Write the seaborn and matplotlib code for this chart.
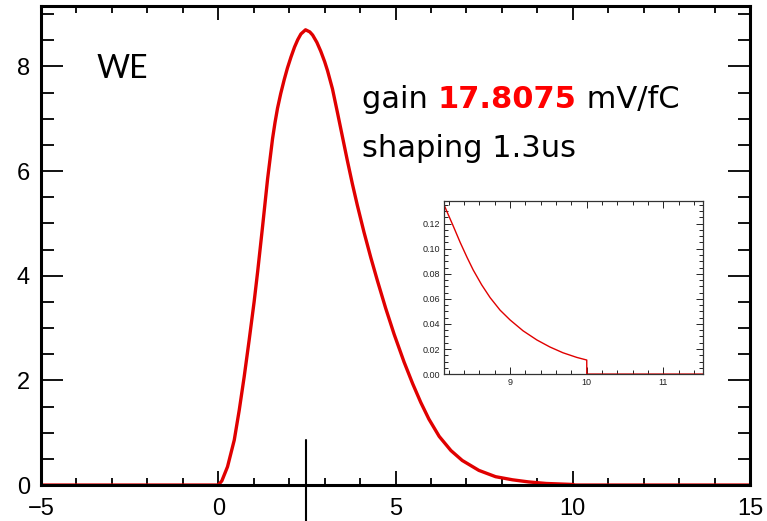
import numpy as np
import pandas as pd
import seaborn as sns
import matplotlib.pyplot as plt
from matplotlib.ticker import MultipleLocator

# main pulse (time in us, amplitude)
t_main = [-5, 0, 0.10, 0.26, 0.45, 0.59, 0.73, 0.87, 1.01, 1.11, 1.25, 1.39, 1.53,
          1.60, 1.67, 1.76, 1.86, 1.95, 2.05, 2.15, 2.24, 2.33, 2.46, 2.58, 2.66,
          2.78, 2.89, 3.00, 3.08, 3.22, 3.36, 3.50, 3.64, 3.78, 3.92, 4.11, 4.30,
          4.49, 4.72, 4.96, 5.24, 5.48, 5.71, 5.94, 6.23, 6.56, 6.88, 7.35, 7.82,
          8.30, 8.75, 9.25, 10.0, 10.0, 15]
amp_main = [0, 0, 0.08, 0.35, 0.86, 1.43, 2.07, 2.77, 3.50, 4.08, 4.95, 5.85, 6.62,
            6.93, 7.20, 7.48, 7.75, 7.97, 8.18, 8.37, 8.51, 8.62, 8.70, 8.66, 8.60,
            8.46, 8.29, 8.09, 7.92, 7.57, 7.12, 6.66, 6.20, 5.76, 5.35, 4.83, 4.35,
            3.90, 3.38, 2.88, 2.35, 1.94, 1.58, 1.26, 0.93, 0.66, 0.47, 0.28, 0.16,
            0.10, 0.06, 0.03, 0.011, 0, 0]

# zoomed tail (inset)
t_tail = [8.14, 8.17, 8.26, 8.35, 8.44, 8.52, 8.63, 8.74, 8.87, 9.00, 9.17, 9.35,
          9.52, 9.69, 9.87, 10.0, 10.0, 11.52]
amp_tail = [0.135, 0.1306, 0.118, 0.105, 0.093, 0.083, 0.0712, 0.061, 0.051, 0.0432,
            0.0345, 0.0272, 0.0216, 0.017, 0.0133, 0.0112, 0, 0]

gain = "17.8075"
shaping = "1.3us"
peak_mark = 2.48

main_df = pd.DataFrame({"t": t_main, "amp": amp_main})
tail_df = pd.DataFrame({"t": t_tail, "amp": amp_tail})

sns.set_theme(style="ticks")
plt.rcParams["font.family"] = ["Liberation Sans", "DejaVu Sans"]
plt.rcParams["text.color"] = "black"
plt.rcParams["xtick.color"] = "black"
plt.rcParams["ytick.color"] = "black"

fig = plt.figure(figsize=(7.67, 5.21), dpi=100)
ax = fig.add_axes([0.0535, 0.069, 0.9245, 0.919])

sns.lineplot(data=main_df, x="t", y="amp", ax=ax, color="#e00000", lw=2.4,
             estimator=None, sort=False)
ax.set_xlim(-5, 15)
ax.set_ylim(0, 9.15)
ax.set_xlabel("")
ax.set_ylabel("")
ax.xaxis.set_major_locator(MultipleLocator(5))
ax.xaxis.set_minor_locator(MultipleLocator(1))
ax.yaxis.set_major_locator(MultipleLocator(2))
ax.yaxis.set_minor_locator(MultipleLocator(0.5))
ax.tick_params(which="both", direction="in", top=True, right=True, colors="black",
               labelsize=17, width=1.3)
ax.tick_params(axis="x", which="major", length=10, pad=9)
ax.tick_params(axis="x", which="minor", length=5)
ax.tick_params(axis="y", which="major", length=16, pad=8)
ax.tick_params(axis="y", which="minor", length=9)
for s in ax.spines.values():
    s.set_linewidth(2.2)
    s.set_color("black")

# marker line below peak
ax.plot([peak_mark, peak_mark], [0.86, -0.7], color="black", lw=1.5, clip_on=False)

fig.text(0.126, 0.85, "WE", fontsize=23, family=["Lato", "DejaVu Sans"],
         va="baseline")

# gain / shaping text
fig.canvas.draw()
r = fig.canvas.get_renderer()
x0, y1, y2 = 0.472, 0.793, 0.699
big = dict(fontsize=22, family=["DejaVu Sans"], va="baseline")
t1 = fig.text(x0, y1, "gain ", **big)
w1 = t1.get_window_extent(r).width / fig.bbox.width
t2 = fig.text(x0 + w1, y1, gain, color="#ff0000", weight="bold", **big)
w2 = t2.get_window_extent(r).width / fig.bbox.width
fig.text(x0 + w1 + w2, y1, " mV/fC", **big)
fig.text(x0, y2, "shaping " + shaping, **big)

# inset
axin = fig.add_axes([0.579, 0.282, 0.338, 0.332])
sns.lineplot(data=tail_df, x="t", y="amp", ax=axin, color="#e00000", lw=1.0,
             estimator=None, sort=False)
axin.set_xlim(8.14, 11.52)
axin.set_ylim(0, 0.138)
axin.set_xlabel("")
axin.set_ylabel("")
axin.xaxis.set_major_locator(MultipleLocator(1))
axin.xaxis.set_minor_locator(MultipleLocator(0.2))
axin.yaxis.set_major_locator(MultipleLocator(0.02))
axin.yaxis.set_minor_locator(MultipleLocator(0.005))
axin.yaxis.set_major_formatter(plt.FormatStrFormatter("%.2f"))
axin.tick_params(which="both", direction="in", top=True, right=True, colors="#222222",
                 labelsize=6.5, width=0.7, pad=3)
axin.tick_params(which="major", length=5)
axin.tick_params(which="minor", length=3)
for s in axin.spines.values():
    s.set_linewidth(0.9)
    s.set_color("#333333")

fig.savefig("out.png", dpi=100)
